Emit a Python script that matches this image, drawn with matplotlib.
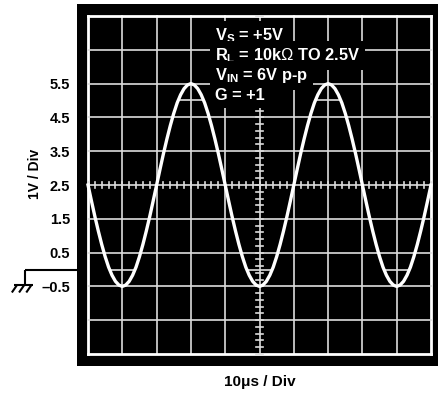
import numpy as np
import matplotlib
matplotlib.use("Agg")
import matplotlib.pyplot as plt

plt.rcParams['font.family'] = ['Liberation Sans', 'DejaVu Sans']
plt.rcParams['mathtext.fontset'] = 'custom'
plt.rcParams['mathtext.rm'] = 'Liberation Sans'
plt.rcParams['mathtext.bf'] = 'Liberation Sans:bold'

# scope trace (time in us, output in V)
time_us = list(range(0, 101))
vout = [2.50, 2.03, 1.57, 1.14, 0.74, 0.38, 0.07, -0.17, -0.35, -0.46,
        -0.50, -0.46, -0.35, -0.17, 0.07, 0.38, 0.74, 1.14, 1.57, 2.03,
        2.50, 2.97, 3.43, 3.86, 4.26, 4.62, 4.93, 5.17, 5.35, 5.46,
        5.50, 5.46, 5.35, 5.17, 4.93, 4.62, 4.26, 3.86, 3.43, 2.97,
        2.50, 2.03, 1.57, 1.14, 0.74, 0.38, 0.07, -0.17, -0.35, -0.46,
        -0.50, -0.46, -0.35, -0.17, 0.07, 0.38, 0.74, 1.14, 1.57, 2.03,
        2.50, 2.97, 3.43, 3.86, 4.26, 4.62, 4.93, 5.17, 5.35, 5.46,
        5.50, 5.46, 5.35, 5.17, 4.93, 4.62, 4.26, 3.86, 3.43, 2.97,
        2.50, 2.03, 1.57, 1.14, 0.74, 0.38, 0.07, -0.17, -0.35, -0.46,
        -0.50, -0.46, -0.35, -0.17, 0.07, 0.38, 0.74, 1.14, 1.57, 2.03,
        2.50]

ytick_vals = [-0.5, 0.5, 1.5, 2.5, 3.5, 4.5, 5.5]
ytick_labels = ['\u20130.5', '0.5', '1.5', '2.5', '3.5', '4.5', '5.5']

notes = [r'V$_{\mathbf{S}}$ = +5V',
         r'R$_{\mathbf{L}}$ = 10k$\Omega$ TO 2.5V',
         r'V$_{\mathbf{IN}}$ = 6V p-p',
         'G = +1']

t_div = 10      # 10us / div
v_div = 1       # 1V / div
t_lo, t_hi = 0, 100
v_lo, v_hi = -2.5, 7.5

fig = plt.figure(figsize=(4.39, 3.94), dpi=100)
ax = fig.add_axes([77/439, 1 - 366/394, 362/439, 362/394])
ax.set_facecolor('black')
for s in ax.spines.values():
    s.set_visible(False)
ax.set_xlim(-3.21, 102.33)
ax.set_ylim(-2.855, 7.855)

# graticule
grid_c = '#dcdcdc'
for t in np.arange(t_lo, t_hi + 1, t_div):
    lw = 2 if t in (t_lo, t_hi) else 1.2
    ax.plot([t, t], [v_lo, v_hi], color=grid_c if lw < 2 else 'white', lw=lw, zorder=2)
for v in np.arange(v_lo, v_hi + 0.1, v_div):
    lw = 2 if v in (v_lo, v_hi) else 1.2
    ax.plot([t_lo, t_hi], [v, v], color=grid_c if lw < 2 else 'white', lw=lw, zorder=2)

# minor ticks on the centre axes
tc, vc = (t_lo + t_hi) / 2, (v_lo + v_hi) / 2
for t in np.arange(t_lo, t_hi + 0.01, t_div / 5):
    ax.plot([t, t], [vc - 0.09, vc + 0.09], color=grid_c, lw=1.2, zorder=2)
for v in np.arange(v_lo, v_hi + 0.01, v_div / 5):
    ax.plot([tc - 0.9, tc + 0.9], [v, v], color=grid_c, lw=1.2, zorder=2)

# short marks inside the peaks / troughs
vmax, vmin = max(vout), min(vout)
for t, v in zip(time_us, vout):
    if v == vmax:
        ax.plot([t - 3.4, t + 3.4], [vmax - 0.5, vmax - 0.5], color=grid_c, lw=1.2, zorder=2)
    if v == vmin:
        ax.plot([t - 3.4, t + 3.4], [vmin + 0.5, vmin + 0.5], color=grid_c, lw=1.2, zorder=2)

ax.plot(time_us, vout, color='white', lw=2.4, zorder=4)

# conditions text
for i, s in enumerate(notes):
    ax.text(37.0, 6.79 - i * 0.593, s, color='white', fontsize=11.8, fontweight='bold',
            va='baseline', ha='left', zorder=5,
            bbox=dict(boxstyle='square,pad=0.3', fc='black', ec='none'))

ax.set_xticks([])
ax.set_yticks(ytick_vals, ytick_labels)
ax.tick_params(axis='y', length=0, pad=5, labelsize=10.5)
for lab in ax.get_yticklabels():
    lab.set_fontweight('bold')

# ground reference marker at 0V
gk = dict(color='black', lw=1.5, clip_on=False, solid_capstyle='butt')
ax.plot([-18.4, -3.21], [0, 0], **gk)
ax.plot([-18.4, -18.4], [0, -0.46], **gk)
ax.plot([-21.6, -16.0], [-0.46, -0.46], **gk)
for xt in (-20.7, -18.6, -16.5):
    ax.plot([xt, xt - 1.5], [-0.46, -0.68], **gk)

fig.text(35/439, 1 - 174/394, '1V / Div', rotation=90, ha='center', va='center',
         fontsize=10, fontweight='bold')
fig.text(260/439, 1 - 382/394, '10\u03bcs / Div', ha='center', va='center',
         fontsize=11, fontweight='bold')

fig.savefig('out.png', dpi=100, facecolor='white')
